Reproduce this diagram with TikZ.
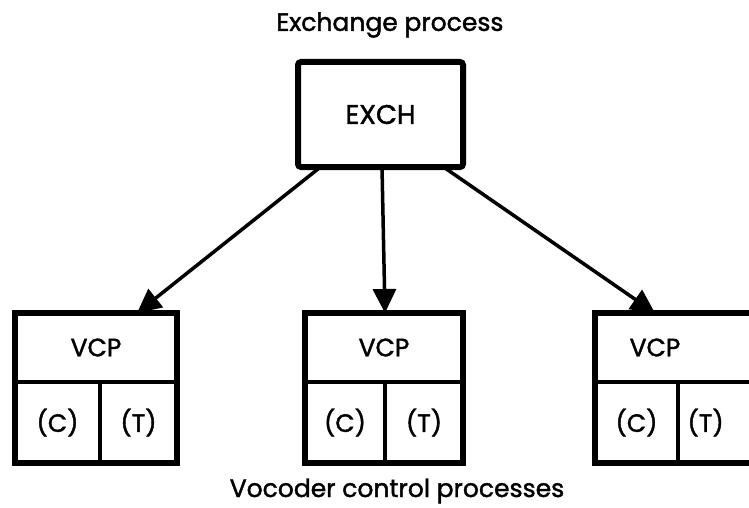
\documentclass[tikz,border=0pt]{standalone}
\usepackage{fontspec}
\setmainfont{Poppins}[UprightFeatures={FakeBold=1.6}]
\usetikzlibrary{arrows.meta,fit}
\begin{document}
\begin{tikzpicture}[x=1pt,y=-1pt,
  txt/.style={font=\fontsize{25}{28}\selectfont},
  cell/.style={draw,line width=3.5pt,inner sep=0pt,outer sep=0pt,txt},
  outer/.style={draw,line width=6pt,inner sep=0pt,outer sep=0pt},
  arr/.style={line width=3.5pt,-{Triangle[length=24pt,width=23pt]}},
  lbl/.style={txt,inner sep=0pt}]
\useasboundingbox (0,0) rectangle (749,508);
\fill[white] (0,0) rectangle (749,508);

% exchange
\node[lbl] (exlbl) at (390,25) {Exchange process};
\node[outer,rounded corners=3pt,minimum width=165pt,minimum height=105pt,font=\fontsize{27}{30}\selectfont] (exch) at (380.5,114.5) {EXCH};

% left VCP
\node[cell,minimum width=162pt,minimum height=69pt] (v1) at (96,347.5) {VCP};
\node[cell,minimum width=85pt,minimum height=81pt] (c1) at (57.5,422.5) {(C)};
\node[cell,minimum width=77pt,minimum height=81pt] (t1) at (138.5,422.5) {(T)};
\node[outer,fit=(v1)(c1)(t1)] (b1) {};

% middle VCP
\node[cell,minimum width=158pt,minimum height=69pt] (v2) at (384,347.5) {VCP};
\node[cell,minimum width=80pt,minimum height=81pt] (c2) at (345,422.5) {(C)};
\node[cell,minimum width=78pt,minimum height=81pt] (t2) at (424,422.5) {(T)};
\node[outer,fit=(v2)(c2)(t2)] (b2) {};

% right VCP (cut by the page edge)
\node[cell,minimum width=162pt,minimum height=69pt,text width=120pt,align=center] (v3) at (676,347.5) {\hspace*{-42pt}VCP};
\node[cell,minimum width=83pt,minimum height=81pt] (c3) at (636.5,422.5) {(C)};
\node[cell,minimum width=79pt,minimum height=81pt,text width=60pt] (t3) at (717.5,422.5) {(T)};
\node[outer,fit=(v3)(c3)(t3)] (b3) {};

% arrows
\draw[arr] ([xshift=-60pt]exch.south) -- ([xshift=41pt]b1.north);
\draw[arr] ([xshift=1.5pt]exch.south) -- ([xshift=1pt]b2.north);
\draw[arr] ([xshift=63pt]exch.south) -- ([xshift=-21pt]b3.north);

\node[lbl] (vclbl) at (397,491) {Vocoder control processes};
\end{tikzpicture}
\end{document}
